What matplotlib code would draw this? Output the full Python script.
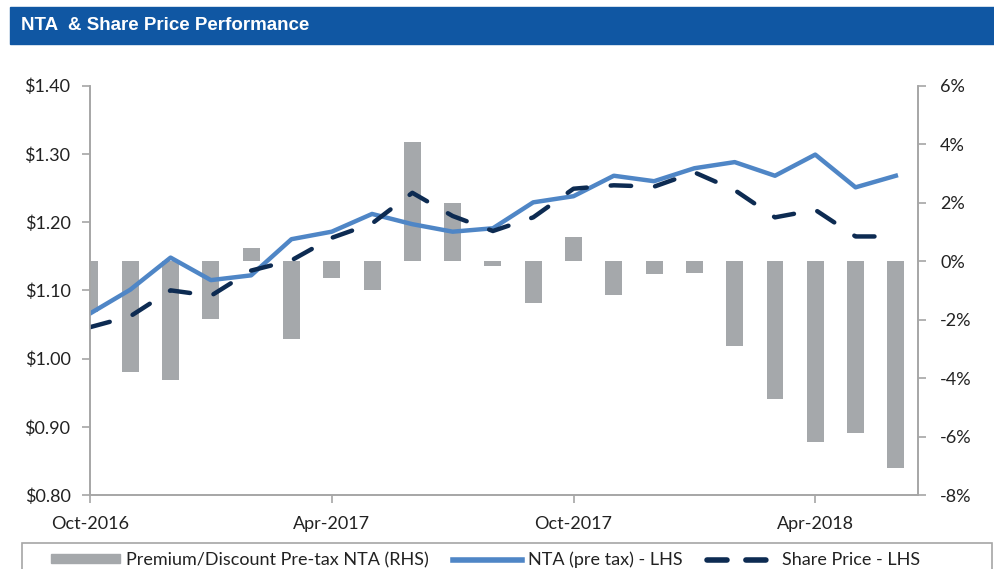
import numpy as np
import matplotlib
matplotlib.use("Agg")
import matplotlib.pyplot as plt
from matplotlib.patches import Rectangle
from matplotlib.lines import Line2D
from matplotlib.ticker import FuncFormatter

plt.rcParams['font.family'] = ['Lato', 'DejaVu Sans']

# monthly data, Oct-2016 .. Jun-2018
months = ["Oct-2016", "Nov-2016", "Dec-2016", "Jan-2017", "Feb-2017", "Mar-2017",
          "Apr-2017", "May-2017", "Jun-2017", "Jul-2017", "Aug-2017", "Sep-2017",
          "Oct-2017", "Nov-2017", "Dec-2017", "Jan-2018", "Feb-2018", "Mar-2018",
          "Apr-2018", "May-2018", "Jun-2018"]
premium = [-1.75, -3.79, -4.06, -1.99, 0.44, -2.65, -0.57, -1.00, 4.06, 1.98, -0.18,
           -1.44, 0.84, -1.17, -0.45, -0.40, -2.92, -4.71, -6.20, -5.87, -7.08]
nta = [1.066, 1.101, 1.148, 1.115, 1.122, 1.175, 1.186, 1.212, 1.197, 1.186, 1.191,
       1.229, 1.238, 1.268, 1.260, 1.279, 1.288, 1.268, 1.299, 1.251, 1.268]
share_price = [1.046, 1.062, 1.100, 1.092, 1.129, 1.144, 1.177, 1.198, 1.243, 1.209,
               1.187, 1.207, 1.249, 1.254, 1.252, 1.273, 1.247, 1.207, 1.218, 1.179, 1.179]
tick_labels = ["Oct-2016", "Apr-2017", "Oct-2017", "Apr-2018"]

x = np.arange(len(months))
W, H = 994, 569

fig = plt.figure(figsize=(9.94, 5.69), dpi=100)
# title bar
fig.patches.append(Rectangle((10 / W, 1 - 44 / H), 984 / W, 37 / H,
                             transform=fig.transFigure, color="#1057A3", zorder=0))
fig.text(21 / W, 1 - 25.5 / H, "NTA  & Share Price Performance", color="white",
         fontsize=13.5, fontweight="bold", va="center", family=["Liberation Sans", "DejaVu Sans"])

ax = fig.add_axes([90 / W, 1 - 495 / H, 828 / W, 409.3 / H])
ax2 = ax.twinx()

gray_edge = "#A6A6A6"
ax2.bar(x, premium, width=0.42, color="#A5A8AB", zorder=1)
ax2.set_ylim(-8, 6)
ax2.set_yticks(np.arange(-8, 7, 2))
ax2.yaxis.set_major_formatter(FuncFormatter(lambda v, p: f"{v:.0f}%"))

# lines above the bars
ax.set_zorder(ax2.get_zorder() + 1)
ax.patch.set_visible(False)
ax.plot(x, nta, color="#4F86C6", lw=3.2)
ax.plot(x, share_price, color="#0D2B52", lw=3.2, dashes=(4.6, 5.4), dash_capstyle="round")
ax.set_ylim(0.80, 1.40)
ax.set_yticks(np.arange(0.80, 1.41, 0.10))
ax.yaxis.set_major_formatter(FuncFormatter(lambda v, p: f"${v:.2f}"))
ax.set_xlim(0, 20.55)
ax.set_xticks([0, 6, 12, 18])
ax.set_xticklabels(tick_labels)

for a in (ax, ax2):
    a.spines["top"].set_visible(False)
    for s in ("left", "right", "bottom"):
        a.spines[s].set_color(gray_edge)
        a.spines[s].set_linewidth(1.2)
    a.tick_params(colors=gray_edge, labelcolor="#222222", labelsize=13, length=6, width=1.2)
ax.tick_params(axis="x", pad=9)
ax.tick_params(axis="y", pad=8)
ax2.tick_params(axis="y", pad=10)

# legend box runs off the bottom edge
fig.patches.append(Rectangle((22 / W, -0.02), 970 / W, 0.02 + 26 / H, transform=fig.transFigure,
                             fill=False, edgecolor=gray_edge, linewidth=1.2))
handles = [Rectangle((0, 0), 1, 1, color="#A5A8AB"),
           Line2D([], [], color="#4F86C6", lw=4),
           Line2D([], [], color="#0D2B52", lw=4, dashes=(3.6, 3.4), dash_capstyle="round")]
labels = ["Premium/Discount Pre-tax NTA (RHS)", "NTA (pre tax) - LHS", "Share Price - LHS"]
leg = fig.legend(handles, labels, loc="center left", bbox_to_anchor=(51 / W, 1 - 560 / H),
                 ncol=3, fontsize=13, frameon=False, handlelength=3.8, handleheight=0.4,
                 handletextpad=0.35, columnspacing=1.35, borderpad=0, borderaxespad=0)
for t in leg.get_texts():
    t.set_color("#222222")

fig.savefig("out.png", dpi=100)
